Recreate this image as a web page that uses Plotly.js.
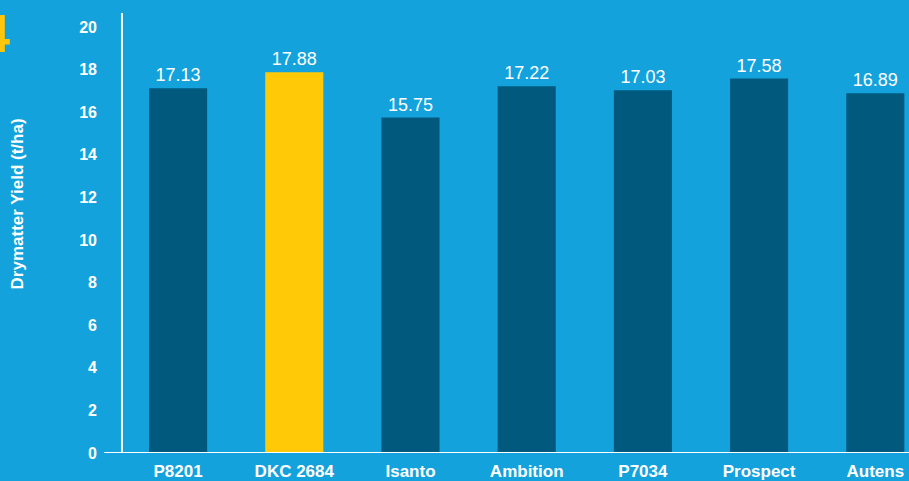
<!DOCTYPE html>
<html>
<head>
<meta charset="utf-8">
<script src="https://cdn.plot.ly/plotly-3.0.1.min.js"></script>
<style>
html,body{margin:0;padding:0;background:#14a2dc;}
#chart{width:909px;height:481px;}
</style>
</head>
<body>
<div id="chart"></div>
<script>
var hybrids = ["P8201", "DKC 2684", "Isanto", "Ambition", "P7034", "Prospect", "Autens"];
var yields = [17.13, 17.88, 15.75, 17.22, 17.03, 17.58, 16.89];
var yTicks = [0, 2, 4, 6, 8, 10, 12, 14, 16, 18, 20];

var colors = hybrids.map(function(h){ return h === "DKC 2684" ? "#ffc907" : "#015a7e"; });

var trace = {
  type: "bar",
  x: hybrids,
  y: yields,
  text: yields.map(function(v){ return v.toFixed(2); }),
  textposition: "outside",
  cliponaxis: false,
  textfont: {family: "Liberation Sans, Arial, sans-serif", size: 18, color: "#ffffff"},
  marker: {color: colors, line: {width: 0}},
  hoverinfo: "none"
};

var layout = {
  width: 909, height: 481,
  margin: {l: 120, r: 0, t: 13, b: 28},
  paper_bgcolor: "#14a2dc",
  plot_bgcolor: "rgba(0,0,0,0)",
  bargap: 0.5,
  showlegend: false,
  font: {family: "Liberation Sans, Arial, sans-serif", color: "#ffffff"},
  xaxis: {
    range: [-0.5, 6.29],
    showline: false,
    showgrid: false,
    zeroline: false,
    ticks: "",
    tickfont: {size: 17, color: "#ffffff", weight: "bold"},
    ticklabelstandoff: 6
  },
  yaxis: {
    range: [0, 20.66],
    tickvals: yTicks,
    ticktext: yTicks.map(String),
    showgrid: false,
    zeroline: false,
    showline: false,
    ticks: "",
    tickfont: {size: 16, color: "#ffffff", weight: "bold"},
    ticklabelstandoff: 22
  },
  shapes: [
    {type: "line", xref: "paper", yref: "y", x0: -0.02, x1: 1, y0: 0, y1: 0,
     line: {color: "#ffffff", width: 2}},
    {type: "line", xref: "paper", yref: "paper", x0: 0.0025, x1: 0.0025, y0: 0, y1: 1,
     line: {color: "#ffffff", width: 2}}
  ],
  annotations: [
    {text: "Drymatter Yield (t/ha)", xref: "paper", yref: "paper",
     x: -0.1305, y: 0.565, xanchor: "center", yanchor: "middle", textangle: -90, showarrow: false,
     font: {size: 17, color: "#ffffff", weight: "bold"}},
    {text: "4", xref: "paper", yref: "paper",
     x: -0.1375, y: 0.955, xanchor: "right", yanchor: "middle", showarrow: false,
     font: {size: 54, color: "#ffc60b", weight: "bold"}}
  ]
};

Plotly.newPlot("chart", [trace], layout, {displayModeBar: false, staticPlot: true});
</script>
</body>
</html>
